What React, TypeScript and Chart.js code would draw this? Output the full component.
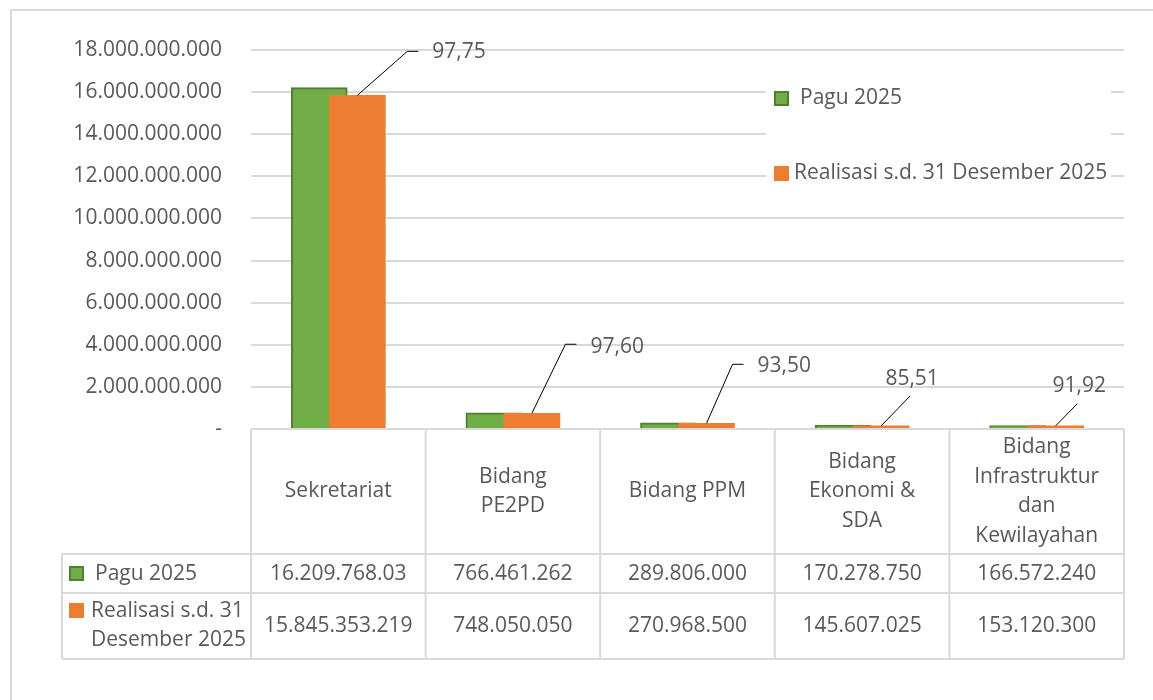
import React, { useEffect, useRef } from "react";
import { Chart, registerables } from "chart.js";

Chart.register(...registerables);

// ---------- data ----------
const categories: string[][] = [
  ["Sekretariat"],
  ["Bidang", "PE2PD"],
  ["Bidang PPM"],
  ["Bidang", "Ekonomi &", "SDA"],
  ["Bidang", "Infrastruktur", "dan", "Kewilayahan"],
];
const seriesNames = ["Pagu 2025", "Realisasi s.d. 31 Desember 2025"];
const seriesRowLabels: string[][] = [["Pagu 2025"], ["Realisasi s.d. 31", "Desember 2025"]];
const pagu = [16209768030, 766461262, 289806000, 170278750, 166572240];
const realisasi = [15845353219, 748050050, 270968500, 145607025, 153120300];
const paguCellText = ["16.209.768.03", "766.461.262", "289.806.000", "170.278.750", "166.572.240"];
const persenLabels = ["97,75", "97,60", "93,50", "85,51", "91,92"];
const yMax = 18000000000;
const yStep = 2000000000;

// ---------- styles ----------
const FONT = '"Open Sans", sans-serif';
const FONT_SIZE = 21;
const TEXT = "#595959";
const LINE = "#D9D9D9";
const GREEN = "#70AD47";
const GREEN_BORDER = "#507E32";
const ORANGE = "#ED7D31";
const BAR_SHIFT = 0.109;
const BAR_W = 56;
const labelLayout = [
  { dx: 50, dy: -44, hx: 61, tx: 75, ty: -43, align: "left" },
  { dx: 33.5, dy: -69, hx: 44.5, tx: 58.5, ty: -66, align: "left" },
  { dx: 26, dy: -59, hx: 37, tx: 51, ty: -57, align: "left" },
  { dx: 29, dy: -30, hx: 29, tx: 31, ty: -47, align: "center" },
  { dx: 21.5, dy: -22, hx: 21.5, tx: 23.5, ty: -40, align: "center" },
];

const fmt = (n: number) => String(Math.round(n)).replace(/\B(?=(\d{3})+(?!\d))/g, ".");
const realisasiCellText = realisasi.map(fmt);

const font = (s = FONT_SIZE) => `${s}px ${FONT}`;

const decorPlugin = {
  id: "decor",
  beforeDraw(chart: any) {
    const ctx = chart.ctx as CanvasRenderingContext2D;
    ctx.save();
    ctx.fillStyle = "#ffffff";
    ctx.fillRect(0, 0, chart.width, chart.height);
    ctx.strokeStyle = LINE;
    ctx.lineWidth = 2;
    ctx.strokeRect(11, 10, chart.width + 40, chart.height + 40);
    ctx.restore();
  },
  afterDatasetsDraw(chart: any) {
    const ctx = chart.ctx as CanvasRenderingContext2D;
    const meta = chart.getDatasetMeta(1);
    ctx.save();
    ctx.strokeStyle = "#000000";
    ctx.lineWidth = 1;
    ctx.font = font();
    ctx.fillStyle = TEXT;
    ctx.textBaseline = "middle";
    meta.data.forEach((bar: any, i: number) => {
      const L = labelLayout[i];
      const x = bar.x;
      const y = bar.y;
      ctx.beginPath();
      ctx.moveTo(x, y);
      ctx.lineTo(x + L.dx, y + L.dy);
      if (L.hx !== L.dx) ctx.lineTo(x + L.hx, y + L.dy);
      ctx.stroke();
      ctx.textAlign = L.align as CanvasTextAlign;
      ctx.fillText(persenLabels[i], x + L.tx, y + L.ty);
    });
    ctx.restore();
  },
  afterDraw(chart: any) {
    const ctx = chart.ctx as CanvasRenderingContext2D;
    const area = chart.chartArea;
    const xs = chart.scales.x;
    ctx.save();

    // legend
    ctx.fillStyle = "#ffffff";
    ctx.fillRect(766, 60, 345, 140);
    const drawSwatch = (sx: number, sy: number, idx: number) => {
      if (idx === 0) {
        ctx.fillStyle = GREEN;
        ctx.fillRect(sx, sy, 15, 15);
        ctx.strokeStyle = GREEN_BORDER;
        ctx.lineWidth = 2;
        ctx.strokeRect(sx + 1, sy + 1, 13, 13);
      } else {
        ctx.fillStyle = ORANGE;
        ctx.fillRect(sx, sy, 15, 15);
      }
    };
    ctx.font = font();
    ctx.textBaseline = "middle";
    ctx.textAlign = "left";
    drawSwatch(774, 91, 0);
    ctx.fillStyle = TEXT;
    ctx.fillText(seriesNames[0], 800, 98.5);
    drawSwatch(774, 166, 1);
    ctx.fillStyle = TEXT;
    ctx.fillText(seriesNames[1], 794, 173);

    // data table
    const n = categories.length;
    const edges: number[] = [];
    for (let i = 0; i <= n; i++) edges.push(xs.getPixelForValue(i - 0.5));
    const top = area.bottom;
    const r0 = top + 125;
    const r1 = r0 + 39;
    const r2 = r1 + 66;
    const left = 62;
    ctx.strokeStyle = LINE;
    ctx.lineWidth = 2;
    ctx.beginPath();
    edges.forEach((ex) => {
      ctx.moveTo(ex, top);
      ctx.lineTo(ex, r2);
    });
    ctx.moveTo(left, r0);
    ctx.lineTo(left, r2);
    ctx.moveTo(edges[0], top);
    ctx.lineTo(edges[n], top);
    [r0, r1, r2].forEach((ry) => {
      ctx.moveTo(left, ry);
      ctx.lineTo(edges[n], ry);
    });
    ctx.stroke();

    ctx.fillStyle = TEXT;
    ctx.textAlign = "center";
    const lh = 29.5;
    const hMid = (top + r0) / 2;
    categories.forEach((lines, i) => {
      const cx = (edges[i] + edges[i + 1]) / 2;
      const y0 = hMid - ((lines.length - 1) * lh) / 2;
      lines.forEach((t, k) => ctx.fillText(t, cx, y0 + k * lh));
      ctx.fillText(paguCellText[i], cx, (r0 + r1) / 2 + 0.5);
      ctx.fillText(realisasiCellText[i], cx, (r1 + r2) / 2);
    });

    // row headers
    drawSwatch(69, 566, 0);
    ctx.fillStyle = TEXT;
    ctx.textAlign = "left";
    ctx.fillText(seriesRowLabels[0][0], 95, (r0 + r1) / 2 + 0.5);
    drawSwatch(69, 603, 1);
    ctx.fillStyle = TEXT;
    seriesRowLabels[1].forEach((t, k) => ctx.fillText(t, 91, 611 + k * 29));

    ctx.restore();
  },
};

export default function App() {
  const ref = useRef<HTMLCanvasElement>(null);
  useEffect(() => {
    document.body.style.margin = "0";
    document.body.style.overflow = "hidden";
    const chart = new Chart(ref.current as HTMLCanvasElement, {
      type: "bar",
      data: {
        datasets: [
          {
            label: seriesNames[0],
            data: pagu.map((v, i) => ({ x: i - BAR_SHIFT, y: v })),
            backgroundColor: GREEN,
            borderColor: GREEN_BORDER,
            borderWidth: 2,
            grouped: false,
            barThickness: BAR_W,
            order: 2,
          },
          {
            label: seriesNames[1],
            data: realisasi.map((v, i) => ({ x: i + BAR_SHIFT, y: v })),
            backgroundColor: ORANGE,
            borderWidth: 0,
            grouped: false,
            barThickness: BAR_W,
            order: 1,
          },
        ] as any,
      },
      options: {
        animation: false,
        responsive: false,
        layout: { padding: { left: 0, top: 50, right: 29, bottom: 271 } },
        plugins: { legend: { display: false }, tooltip: { enabled: false } },
        scales: {
          x: {
            type: "linear",
            min: -0.5,
            max: categories.length - 0.5,
            offset: false,
            display: false,
          },
          y: {
            min: 0,
            max: yMax,
            afterFit: (s: any) => {
              s.width = 251;
            },
            border: { display: false },
            grid: { color: LINE, lineWidth: 2, drawTicks: false },
            ticks: {
              stepSize: yStep,
              padding: 29,
              color: TEXT,
              font: { family: FONT, size: FONT_SIZE },
              callback: (v: any) => (Number(v) === 0 ? "-" : fmt(Number(v))),
            },
          },
        },
      },
      plugins: [decorPlugin],
    });
    return () => chart.destroy();
  }, []);
  return (
    <div style={{ width: 1153, height: 700 }}>
      <canvas ref={ref} width={1153} height={700} style={{ display: "block" }} />
    </div>
  );
}
